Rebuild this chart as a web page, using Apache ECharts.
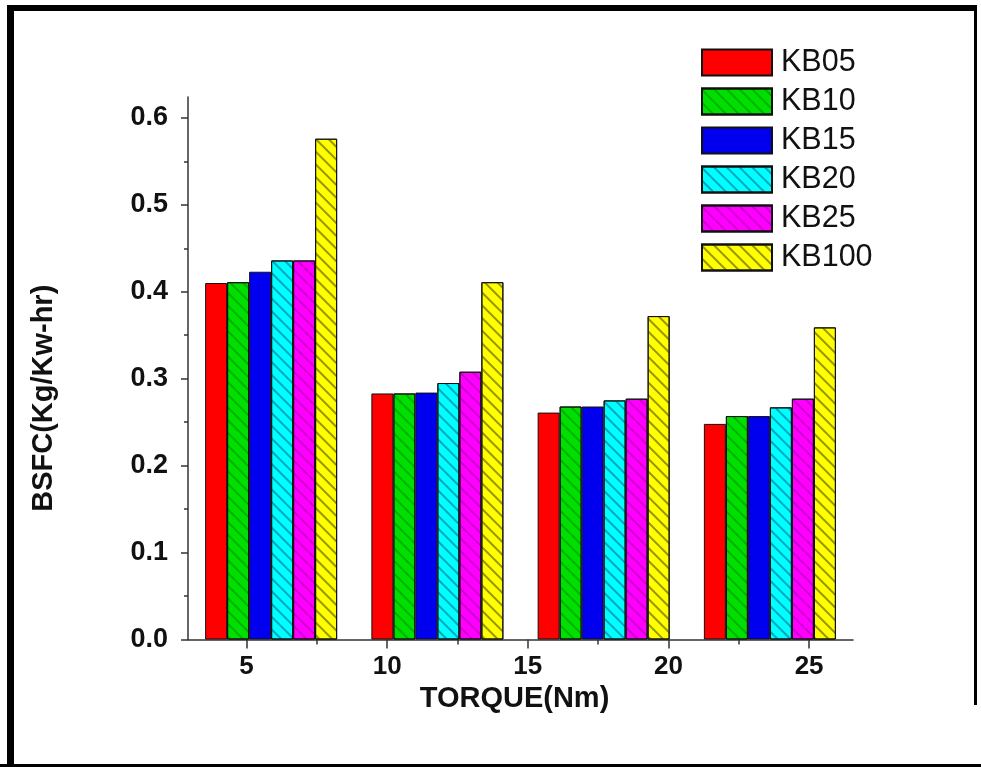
<!DOCTYPE html>
<html>
<head>
<meta charset="utf-8">
<script src="https://cdn.jsdelivr.net/npm/echarts@6/dist/echarts.min.js"></script>
<style>
  html, body { margin: 0; padding: 0; background: #fff; }
  #chart { width: 981px; height: 767px; }
</style>
</head>
<body>
<div id="chart"></div>
<script>
// Bar groups (one per load step) and the torque scale drawn beneath them
const groups = ['load1', 'load2', 'load3', 'load4'];
const torqueTicks = [5, 10, 15, 20, 25];
const torqueMinorTicks = [7.5, 12.5, 17.5, 22.5];
const bsfcTicks = [0, 0.1, 0.2, 0.3, 0.4, 0.5, 0.6];
const bsfcMinorTicks = [0.05, 0.15, 0.25, 0.35, 0.45, 0.55];

// Blend names and BSFC values (Kg/Kw-hr)
const blendNames = ['KB05', 'KB10', 'KB15', 'KB20', 'KB25', 'KB100'];
const kb05  = [0.410, 0.283, 0.261, 0.248];
const kb10  = [0.411, 0.283, 0.268, 0.257];
const kb15  = [0.423, 0.284, 0.268, 0.257];
const kb20  = [0.436, 0.295, 0.275, 0.267];
const kb25  = [0.436, 0.308, 0.277, 0.277];
const kb100 = [0.576, 0.411, 0.372, 0.359];
const blendValues = [kb05, kb10, kb15, kb20, kb25, kb100];

const fills = ['#ff0000', '#00e000', '#0000ee', '#00ffff', '#ff00ff', '#ffff00'];
const hatchColors = [null, 'rgba(0,90,0,0.35)', null, 'rgba(0,60,120,0.45)', 'rgba(120,0,120,0.35)', 'rgba(80,80,0,0.6)'];

const FONT = '"Liberation Sans", Arial, sans-serif';

function hatch(color) {
  if (!color) return null;
  return {
    symbol: 'rect',
    symbolSize: 1,
    dashArrayX: [1, 0],
    dashArrayY: [1.5, 6.5],
    rotation: Math.PI / 4,
    color: color
  };
}

const series = blendNames.map((name, i) => ({
  name: name,
  type: 'bar',
  xAxisIndex: 0,
  yAxisIndex: 0,
  data: blendValues[i],
  barWidth: 22,
  barGap: '0%',
  itemStyle: {
    color: fills[i],
    borderColor: '#111',
    borderWidth: 1,
    decal: hatch(hatchColors[i])
  }
}));

const chart = echarts.init(document.getElementById('chart'));
chart.setOption({
  backgroundColor: '#fff',
  animation: false,
  grid: { left: 188, right: 128, top: 97, bottom: 127.5, containLabel: false },
  legend: {
    orient: 'vertical',
    left: 696,
    top: 42,
    itemWidth: 70,
    itemHeight: 26,
    itemGap: 8,
    icon: 'rect',
    data: blendNames,
    textStyle: { fontFamily: FONT, fontSize: 30.5, color: '#111', padding: [0, 0, 0, 4] }
  },
  xAxis: [
    {
      type: 'category',
      data: groups,
      show: false,
      boundaryGap: true
    },
    {
      type: 'value',
      position: 'bottom',
      min: 2.92,
      max: 26.56,
      name: 'TORQUE(Nm)',
      nameLocation: 'middle',
      nameGap: 38,
      nameTextStyle: { fontFamily: FONT, fontSize: 29, fontWeight: 'bold', color: '#111', padding: [0, 12, 0, 0] },
      axisLine: { show: true, onZero: false, lineStyle: { color: '#333', width: 1.5 } },
      axisTick: { show: true, inside: false, length: 9, customValues: torqueTicks, lineStyle: { color: '#333', width: 1.5 } },
      axisLabel: { customValues: torqueTicks, margin: 14, fontFamily: FONT, fontSize: 26, fontWeight: 'bold', color: '#111' },
      splitLine: { show: false }
    },
    {
      type: 'value',
      position: 'bottom',
      min: 2.92,
      max: 26.56,
      axisLine: { show: false },
      axisTick: { show: true, inside: false, length: 5, customValues: torqueMinorTicks, lineStyle: { color: '#333', width: 1.5 } },
      axisLabel: { show: false },
      splitLine: { show: false }
    }
  ],
  yAxis: [
    {
      type: 'value',
      position: 'left',
      min: 0,
      max: 0.624,
      name: 'BSFC(Kg/Kw-hr)',
      nameLocation: 'middle',
      nameRotate: 90,
      nameGap: 130,
      nameTextStyle: { fontFamily: FONT, fontSize: 29, fontWeight: 'bold', color: '#111', padding: [0, 60, 0, 0] },
      axisLine: { show: true, lineStyle: { color: '#333', width: 1.5 } },
      axisTick: { show: true, inside: false, length: 7, customValues: bsfcTicks, lineStyle: { color: '#333', width: 1.5 } },
      axisLabel: {
        customValues: bsfcTicks,
        margin: 20,
        fontFamily: FONT, fontSize: 27, fontWeight: 'bold', color: '#111',
        formatter: v => v.toFixed(1)
      },
      splitLine: { show: false }
    },
    {
      type: 'value',
      position: 'left',
      min: 0,
      max: 0.624,
      axisLine: { show: false },
      axisTick: { show: true, inside: false, length: 4, customValues: bsfcMinorTicks, lineStyle: { color: '#333', width: 1.5 } },
      axisLabel: { show: false },
      splitLine: { show: false }
    }
  ],
  graphic: [
    { type: 'rect', shape: { x: 7, y: 5, width: 7, height: 762 }, style: { fill: '#000' }, silent: true },
    { type: 'rect', shape: { x: 7, y: 5, width: 970, height: 6 }, style: { fill: '#000' }, silent: true },
    { type: 'rect', shape: { x: 0, y: 764, width: 981, height: 3 }, style: { fill: '#000' }, silent: true },
    { type: 'rect', shape: { x: 974, y: 5, width: 3, height: 700 }, style: { fill: '#000' }, silent: true }
  ],
  series: series
});
</script>
</body>
</html>
